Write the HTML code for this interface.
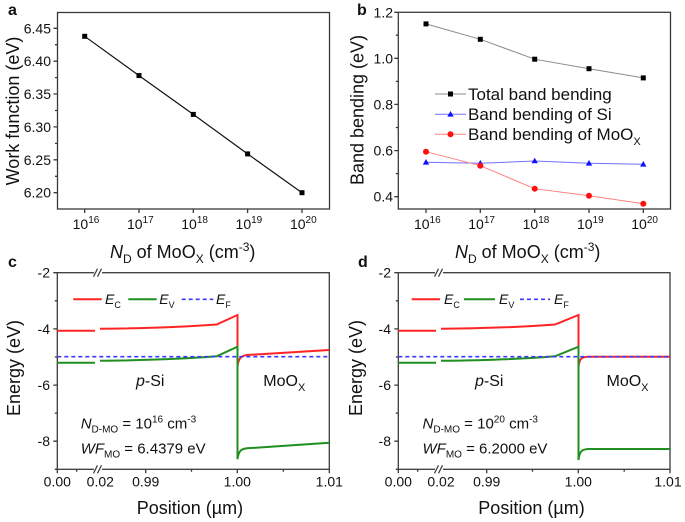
<!DOCTYPE html>
<html><head><meta charset="utf-8"><style>
html,body{margin:0;padding:0;background:#fff;}
svg{display:block;font-family:"Liberation Sans",Arial,sans-serif;}
</style></head><body>
<svg width="685" height="522" viewBox="0 0 685 522" xmlns="http://www.w3.org/2000/svg">
<rect width="685" height="522" fill="#fff"/>

<!-- Panel labels -->
<g font-weight="bold" font-size="16" fill="#111">
<text x="8" y="15">a</text>
<text x="357" y="15">b</text>
<text x="8" y="267">c</text>
<text x="358" y="267">d</text>
</g>

<!-- ================= PANEL A ================= -->
<g stroke="#3a3a3a" stroke-width="1.3" fill="none">
<rect x="57.5" y="12.5" width="272" height="196.5"/>
<path d="M57.5,192.7h-4 M57.5,159.8h-4 M57.5,126.9h-4 M57.5,94h-4 M57.5,61.2h-4 M57.5,28.3h-4
M57.5,176.3h-2.5 M57.5,143.4h-2.5 M57.5,110.5h-2.5 M57.5,77.6h-2.5 M57.5,44.7h-2.5"/>
<path d="M84.7,209v4 M139,209v4 M193.3,209v4 M247.6,209v4 M302,209v4"/>
</g>
<g font-size="14" fill="#111" text-anchor="end">
<text x="51" y="197.7">6.20</text>
<text x="51" y="164.8">6.25</text>
<text x="51" y="131.9">6.30</text>
<text x="51" y="99">6.35</text>
<text x="51" y="66.2">6.40</text>
<text x="51" y="33.3">6.45</text>
</g>
<g font-size="14" fill="#111" text-anchor="middle">
<text x="86" y="229">10<tspan dy="-6" font-size="10">16</tspan></text>
<text x="140.3" y="229">10<tspan dy="-6" font-size="10">17</tspan></text>
<text x="194.6" y="229">10<tspan dy="-6" font-size="10">18</tspan></text>
<text x="248.9" y="229">10<tspan dy="-6" font-size="10">19</tspan></text>
<text x="303.3" y="229">10<tspan dy="-6" font-size="10">20</tspan></text>
</g>
<text transform="translate(19,111) rotate(-90)" text-anchor="middle" font-size="18" fill="#111">Work function (eV)</text>
<text x="110" y="258" font-size="18" fill="#111"><tspan font-style="italic">N</tspan><tspan dy="5" font-size="12">D</tspan><tspan dy="-5"> of MoO</tspan><tspan dy="5" font-size="12">X</tspan><tspan dy="-5"> (cm</tspan><tspan dy="-7" font-size="12">-3</tspan><tspan dy="7">)</tspan></text>
<polyline points="84.7,36.3 139,75.6 193.3,114.4 247.6,153.9 302,192.7" fill="none" stroke="#111" stroke-width="1.2"/>
<g fill="#000">
<rect x="82.2" y="33.8" width="5" height="5"/>
<rect x="136.5" y="73.1" width="5" height="5"/>
<rect x="190.8" y="111.9" width="5" height="5"/>
<rect x="245.1" y="151.4" width="5" height="5"/>
<rect x="299.5" y="190.2" width="5" height="5"/>
</g>

<!-- ================= PANEL B ================= -->
<g stroke="#3a3a3a" stroke-width="1.3" fill="none">
<rect x="398.3" y="12.3" width="272.2" height="196.7"/>
<path d="M398.3,196.7h-4 M398.3,150.6h-4 M398.3,104.4h-4 M398.3,58.3h-4 M398.3,12.3h-4
M398.3,173.6h-2.5 M398.3,127.5h-2.5 M398.3,81.4h-2.5 M398.3,35.2h-2.5"/>
<path d="M426,209v4 M480.3,209v4 M534.7,209v4 M589,209v4 M643.3,209v4"/>
</g>
<g font-size="14" fill="#111" text-anchor="end">
<text x="393" y="201.7">0.4</text>
<text x="393" y="155.6">0.6</text>
<text x="393" y="109.4">0.8</text>
<text x="393" y="63.3">1.0</text>
<text x="393" y="17.3">1.2</text>
</g>
<g font-size="14" fill="#111" text-anchor="middle">
<text x="427.3" y="229">10<tspan dy="-6" font-size="10">16</tspan></text>
<text x="481.6" y="229">10<tspan dy="-6" font-size="10">17</tspan></text>
<text x="536" y="229">10<tspan dy="-6" font-size="10">18</tspan></text>
<text x="590.3" y="229">10<tspan dy="-6" font-size="10">19</tspan></text>
<text x="644.6" y="229">10<tspan dy="-6" font-size="10">20</tspan></text>
</g>
<text transform="translate(363.5,110) rotate(-90)" text-anchor="middle" font-size="18" fill="#111">Band bending (eV)</text>
<text x="455" y="258" font-size="18" fill="#111"><tspan font-style="italic">N</tspan><tspan dy="5" font-size="12">D</tspan><tspan dy="-5"> of MoO</tspan><tspan dy="5" font-size="12">X</tspan><tspan dy="-5"> (cm</tspan><tspan dy="-7" font-size="12">-3</tspan><tspan dy="7">)</tspan></text>
<polyline points="426,23.9 480.3,39.3 534.7,59.2 589,68.7 643.3,77.9" fill="none" stroke="#8a8a8a" stroke-width="1"/>
<polyline points="426,162.3 480.3,163.3 534.7,161 589,163.3 643.3,164.3" fill="none" stroke="#7070ff" stroke-width="1"/>
<polyline points="426,151.7 480.3,165.7 534.7,188.7 589,195.7 643.3,203.7" fill="none" stroke="#ff8080" stroke-width="1"/>
<g fill="#000">
<rect x="423.5" y="21.4" width="5" height="5"/>
<rect x="477.8" y="36.8" width="5" height="5"/>
<rect x="532.2" y="56.7" width="5" height="5"/>
<rect x="586.5" y="66.2" width="5" height="5"/>
<rect x="640.8" y="75.4" width="5" height="5"/>
</g>
<g fill="#1010ff">
<polygon points="426,159 429.2,164.6 422.8,164.6"/>
<polygon points="480.3,160 483.5,165.6 477.1,165.6"/>
<polygon points="534.7,157.7 537.9,163.3 531.5,163.3"/>
<polygon points="589,160 592.2,165.6 585.8,165.6"/>
<polygon points="643.3,161 646.5,166.6 640.1,166.6"/>
</g>
<g fill="#ff1010">
<circle cx="426" cy="151.7" r="3"/>
<circle cx="480.3" cy="165.7" r="3"/>
<circle cx="534.7" cy="188.7" r="3"/>
<circle cx="589" cy="195.7" r="3"/>
<circle cx="643.3" cy="203.7" r="3"/>
</g>
<line x1="435" y1="94" x2="466" y2="94" stroke="#8a8a8a" stroke-width="1"/>
<rect x="448" y="91.5" width="5" height="5" fill="#000"/>
<line x1="435" y1="114.3" x2="466" y2="114.3" stroke="#7070ff" stroke-width="1"/>
<polygon points="450.5,111 453.7,116.6 447.3,116.6" fill="#1010ff"/>
<line x1="435" y1="134.3" x2="466" y2="134.3" stroke="#ff8080" stroke-width="1"/>
<circle cx="450.5" cy="134.3" r="3" fill="#ff1010"/>
<g font-size="17" fill="#111">
<text x="468" y="99.8">Total band bending</text>
<text x="468" y="119.8">Band bending of Si</text>
<text x="468" y="139.8">Band bending of MoO<tspan dy="5" font-size="11">X</tspan></text>
</g>

<!-- ================= PANEL C ================= -->
<g stroke="#3a3a3a" stroke-width="1.3" fill="none">
<rect x="57.3" y="272.7" width="272" height="196.6"/>
<path d="M57.3,272.7h-4 M57.3,328.9h-4 M57.3,385.1h-4 M57.3,441.2h-4
M57.3,300.8h-2.5 M57.3,357h-2.5 M57.3,413.1h-2.5 M57.3,469.3h-2.5"/>
<path d="M57.3,469.3v4 M76.7,469.3v2.5 M145.7,469.3v4 M191.5,469.3v2.5 M237.3,469.3v4 M283.3,469.3v2.5 M329.3,469.3v4"/>
</g>
<rect x="94" y="270" width="8" height="5" fill="#fff"/>
<rect x="94" y="467" width="8" height="5" fill="#fff"/>
<g stroke="#3a3a3a" stroke-width="1.2">
<line x1="93.5" y1="276.7" x2="97.5" y2="268.7"/><line x1="97.5" y1="276.7" x2="101.5" y2="268.7"/>
<line x1="93.5" y1="473.3" x2="97.5" y2="465.3"/><line x1="97.5" y1="473.3" x2="101.5" y2="465.3"/>
</g>
<g font-size="14" fill="#111" text-anchor="end">
<text x="50" y="277.7">-2</text>
<text x="50" y="333.9">-4</text>
<text x="50" y="390.1">-6</text>
<text x="50" y="446.2">-8</text>
</g>
<g font-size="14" fill="#111" text-anchor="middle">
<text x="57.3" y="486.5">0.00</text>
<text x="100.3" y="486.5">0.02</text>
<text x="145.7" y="486.5">0.99</text>
<text x="237.3" y="486.5">1.00</text>
<text x="329.3" y="486.5">1.01</text>
</g>
<text transform="translate(20,368) rotate(-90)" text-anchor="middle" font-size="18" fill="#111">Energy (eV)</text>
<text x="136.7" y="514" font-size="18" fill="#111">Position (µm)</text>
<g fill="none" stroke-width="2">
<path d="M57.3,330.7 L95,330.7 M100,328.8 Q170,328 216.7,324.5 L237.5,315 L237.5,366.7 C238.5,358 241,356 247,355 L329.3,350" stroke="#ff2424"/>
<path d="M57.3,362.7 L95,362.7 M100,360.8 Q170,360 216.7,356.3 L237.5,346.7 L237.5,459.3 C238.5,451 241,449 247,448.3 L329.3,442.7" stroke="#1f8f1f"/>
<path d="M57.3,356.7 L329.3,356.7" stroke="#3a3aff" stroke-width="1.6" stroke-dasharray="4,3"/>
</g>
<line x1="73.3" y1="299.3" x2="101.7" y2="299.3" stroke="#ff2424" stroke-width="2"/>
<line x1="128.3" y1="299.3" x2="156.7" y2="299.3" stroke="#1f8f1f" stroke-width="2"/>
<line x1="181.7" y1="299.3" x2="213.3" y2="299.3" stroke="#3a3aff" stroke-width="1.6" stroke-dasharray="4,3"/>
<g font-size="14" fill="#111">
<text x="105" y="304"><tspan font-style="italic">E</tspan><tspan dy="4" font-size="9">C</tspan></text>
<text x="159.3" y="304"><tspan font-style="italic">E</tspan><tspan dy="4" font-size="9">V</tspan></text>
<text x="216" y="304"><tspan font-style="italic">E</tspan><tspan dy="4" font-size="9">F</tspan></text>
</g>
<g font-size="16" fill="#111">
<text x="136" y="386"><tspan font-style="italic">p</tspan>-Si</text>
<text x="263.3" y="386">MoO<tspan dy="5" font-size="11">X</tspan></text>
</g>
<g font-size="15" fill="#111">
<text x="80.7" y="428.3"><tspan font-style="italic">N</tspan><tspan dy="4" font-size="10">D-MO</tspan><tspan dy="-4"> = 10</tspan><tspan dy="-6" font-size="10">16</tspan><tspan dy="6"> cm</tspan><tspan dy="-6" font-size="10">-3</tspan></text>
<text x="80.7" y="453.5"><tspan font-style="italic">WF</tspan><tspan dy="4" font-size="10">MO</tspan><tspan dy="-4"> = 6.4379 eV</tspan></text>
</g>

<!-- ================= PANEL D ================= -->
<g stroke="#3a3a3a" stroke-width="1.3" fill="none">
<rect x="398.3" y="272.7" width="271.7" height="196.6"/>
<path d="M398.3,272.7h-4 M398.3,328.9h-4 M398.3,385.1h-4 M398.3,441.2h-4
M398.3,300.8h-2.5 M398.3,357h-2.5 M398.3,413.1h-2.5 M398.3,469.3h-2.5"/>
<path d="M398.3,469.3v4 M417.7,469.3v2.5 M486.7,469.3v4 M532.5,469.3v2.5 M578.3,469.3v4 M624.2,469.3v2.5 M670,469.3v4"/>
</g>
<rect x="435" y="270" width="8" height="5" fill="#fff"/>
<rect x="435" y="467" width="8" height="5" fill="#fff"/>
<g stroke="#3a3a3a" stroke-width="1.2">
<line x1="434.5" y1="276.7" x2="438.5" y2="268.7"/><line x1="438.5" y1="276.7" x2="442.5" y2="268.7"/>
<line x1="434.5" y1="473.3" x2="438.5" y2="465.3"/><line x1="438.5" y1="473.3" x2="442.5" y2="465.3"/>
</g>
<g font-size="14" fill="#111" text-anchor="end">
<text x="391" y="277.7">-2</text>
<text x="391" y="333.9">-4</text>
<text x="391" y="390.1">-6</text>
<text x="391" y="446.2">-8</text>
</g>
<g font-size="14" fill="#111" text-anchor="middle">
<text x="398.3" y="486.5">0.00</text>
<text x="441" y="486.5">0.02</text>
<text x="486.7" y="486.5">0.99</text>
<text x="578.3" y="486.5">1.00</text>
<text x="668" y="486.5">1.01</text>
</g>
<text transform="translate(362,368) rotate(-90)" text-anchor="middle" font-size="18" fill="#111">Energy (eV)</text>
<text x="478.3" y="514" font-size="18" fill="#111">Position (µm)</text>
<g fill="none" stroke-width="2">
<path d="M398.3,330.7 L436,330.7 M441,328.8 Q511,328 555,324.5 L578.5,315 L578.5,366.7 C579.5,358 582,357 588,356.7 L670,356.7" stroke="#ff2424"/>
<path d="M398.3,362.7 L436,362.7 M441,360.8 Q511,360 555,356.3 L578.5,346.7 L578.5,460 C579.5,451 582,449.5 588,449 L670,449" stroke="#1f8f1f"/>
<path d="M398.3,356.7 L670,356.7" stroke="#3a3aff" stroke-width="1.6" stroke-dasharray="4,3"/>
</g>
<line x1="411.7" y1="299.3" x2="440" y2="299.3" stroke="#ff2424" stroke-width="2"/>
<line x1="464" y1="299.3" x2="495" y2="299.3" stroke="#1f8f1f" stroke-width="2"/>
<line x1="520" y1="299.3" x2="550" y2="299.3" stroke="#3a3aff" stroke-width="1.6" stroke-dasharray="4,3"/>
<g font-size="14" fill="#111">
<text x="444" y="304"><tspan font-style="italic">E</tspan><tspan dy="4" font-size="9">C</tspan></text>
<text x="499" y="304"><tspan font-style="italic">E</tspan><tspan dy="4" font-size="9">V</tspan></text>
<text x="554" y="304"><tspan font-style="italic">E</tspan><tspan dy="4" font-size="9">F</tspan></text>
</g>
<g font-size="16" fill="#111">
<text x="475" y="386"><tspan font-style="italic">p</tspan>-Si</text>
<text x="606.5" y="386">MoO<tspan dy="5" font-size="11">X</tspan></text>
</g>
<g font-size="15" fill="#111">
<text x="422.5" y="428.3"><tspan font-style="italic">N</tspan><tspan dy="4" font-size="10">D-MO</tspan><tspan dy="-4"> = 10</tspan><tspan dy="-6" font-size="10">20</tspan><tspan dy="6"> cm</tspan><tspan dy="-6" font-size="10">-3</tspan></text>
<text x="422.5" y="453.5"><tspan font-style="italic">WF</tspan><tspan dy="4" font-size="10">MO</tspan><tspan dy="-4"> = 6.2000 eV</tspan></text>
</g>
</svg>
</body></html>
